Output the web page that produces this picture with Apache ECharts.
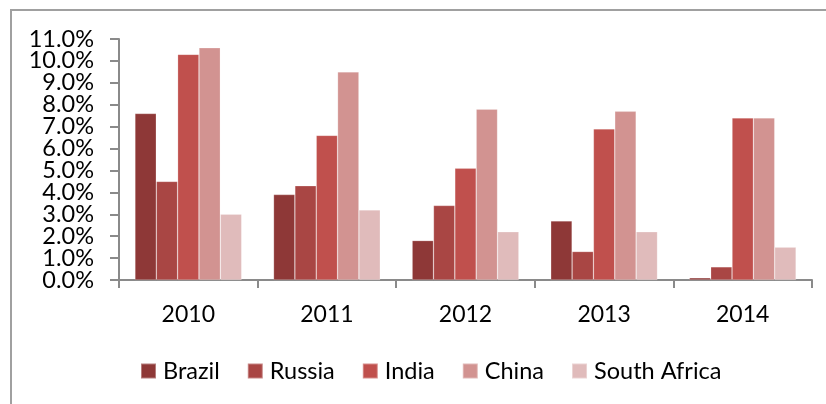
<!DOCTYPE html>
<html>
<head>
<meta charset="utf-8">
<script src="https://cdn.jsdelivr.net/npm/echarts@6/dist/echarts.min.js"></script>
<style>
  html, body { margin: 0; padding: 0; background: #ffffff; }
  #chart { width: 826px; height: 404px; }
</style>
</head>
<body>
<div id="chart"></div>
<script>
// Annual GDP growth of the BRICS economies (%)
const years = ['2010', '2011', '2012', '2013', '2014'];
const brazil = [7.6, 3.9, 1.8, 2.7, 0.1];
const russia = [4.5, 4.3, 3.4, 1.3, 0.6];
const india = [10.3, 6.6, 5.1, 6.9, 7.4];
const china = [10.6, 9.5, 7.8, 7.7, 7.4];
const southAfrica = [3.0, 3.2, 2.2, 2.2, 1.5];

const seriesNames = ['Brazil', 'Russia', 'India', 'China', 'South Africa'];
const seriesData = [brazil, russia, india, china, southAfrica];
const seriesColors = ['#8e3837', '#a94644', '#c0504d', '#d29391', '#e0bbbb'];

const Y_MIN = 0, Y_MAX = 11, Y_STEP = 1;

const FONT = 'Lato, "Open Sans", sans-serif';
const AXIS_GREY = '#8a8a8a';

const chart = echarts.init(document.getElementById('chart'), null, { renderer: 'canvas' });

// The percentage labels are large relative to the tick spacing, so they are
// split over two coincident value axes (even and odd ticks) to keep all visible.
function percentAxis(parity, drawLine) {
  return {
    type: 'value',
    position: 'left',
    min: Y_MIN,
    max: Y_MAX,
    interval: Y_STEP,
    axisLine: { show: drawLine, lineStyle: { color: AXIS_GREY, width: 2 } },
    axisTick: { show: drawLine, length: 9, lineStyle: { color: AXIS_GREY, width: 2 } },
    axisLabel: {
      fontFamily: FONT, fontSize: 23.5, color: '#000000', margin: 25,
      showMinLabel: true, showMaxLabel: true,
      formatter: v => (Math.round(v) % 2 === parity ? v.toFixed(1) + '%' : '')
    },
    splitLine: { show: false }
  };
}

chart.setOption({
  animation: false,
  backgroundColor: '#ffffff',
  graphic: [{
    type: 'rect',
    shape: { x: 11, y: 10, width: 900, height: 500 },
    style: { fill: 'none', stroke: '#a0a0a0', lineWidth: 2 },
    silent: true
  }],
  grid: { left: 119, right: 14, top: 39, bottom: 124, containLabel: false },
  legend: {
    data: seriesNames,
    left: 140,
    top: 359,
    padding: 0,
    itemWidth: 15,
    itemHeight: 15,
    itemGap: 27,
    icon: 'rect',
    textStyle: { fontFamily: FONT, fontSize: 23.5, color: '#000000', padding: [0, 0, 0, 2] }
  },
  xAxis: {
    type: 'category',
    data: years,
    axisLine: { lineStyle: { color: AXIS_GREY, width: 2 } },
    axisTick: { show: true, length: 8, lineStyle: { color: AXIS_GREY, width: 2 } },
    axisLabel: { fontFamily: FONT, fontSize: 23, color: '#000000', margin: 23 },
    splitLine: { show: false }
  },
  yAxis: [percentAxis(0, true), percentAxis(1, false)],
  series: seriesNames.map((name, i) => ({
    name: name,
    type: 'bar',
    yAxisIndex: 0,
    data: seriesData[i],
    barGap: '0%',
    barCategoryGap: '23%',
    itemStyle: {
      color: seriesColors[i],
      borderColor: 'rgba(255,255,255,0.35)',
      borderWidth: 0.6
    }
  }))
});
</script>
</body>
</html>
